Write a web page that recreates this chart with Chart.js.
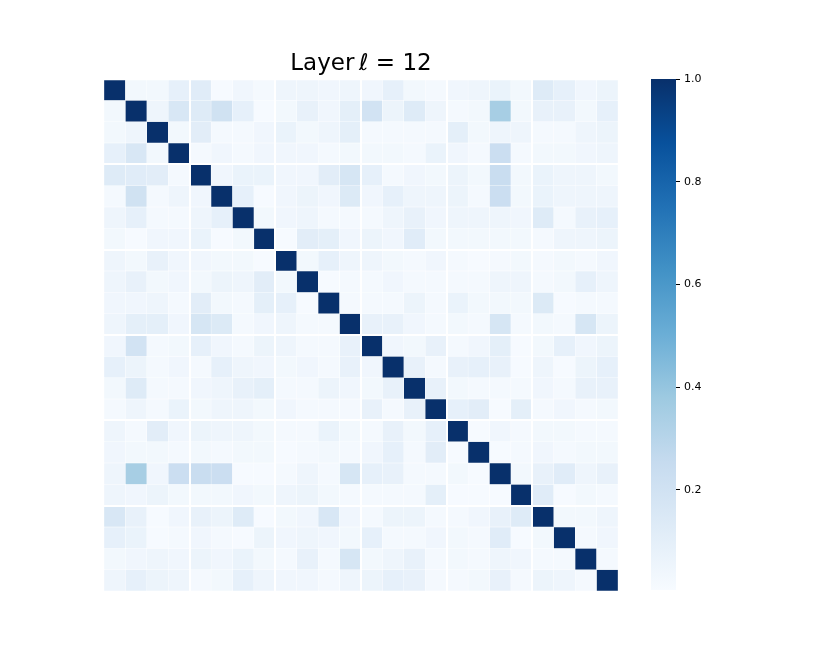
<!DOCTYPE html>
<html>
<head>
<meta charset="utf-8">
<script src="https://cdn.jsdelivr.net/npm/chart.js@4.4.1/dist/chart.umd.min.js"></script>
<style>
  html, body { margin: 0; padding: 0; background: #fff; }
  #wrap { position: relative; width: 830px; height: 664px; }
  #heat { position: absolute; left: 0; top: 0; }
  #cbar { position: absolute; left: 640px; top: 0; }
</style>
</head>
<body>
<div id="wrap">
  <canvas id="heat" width="640" height="664"></canvas>
  <canvas id="cbar" width="190" height="664"></canvas>
</div>
<script>
'use strict';

var title = 'Layer\u2009\u2113 = 12';

// 24 heads
var cols = ['0','1','2','3','4','5','6','7','8','9','10','11','12','13','14','15','16','17','18','19','20','21','22','23'];

var corr = [
  [1.00,0.03,0.03,0.09,0.12,0.01,0.04,0.02,0.05,0.05,0.04,0.05,0.04,0.09,0.03,0.02,0.04,0.05,0.07,0.03,0.13,0.09,0.04,0.06],
  [0.03,1.00,0.05,0.16,0.13,0.20,0.09,0.01,0.03,0.08,0.04,0.10,0.19,0.06,0.13,0.05,0.02,0.03,0.35,0.03,0.08,0.08,0.03,0.09],
  [0.03,0.05,1.00,0.03,0.11,0.02,0.02,0.04,0.07,0.03,0.05,0.10,0.02,0.02,0.02,0.02,0.10,0.03,0.05,0.05,0.02,0.02,0.05,0.06],
  [0.09,0.16,0.03,1.00,0.02,0.04,0.02,0.04,0.04,0.04,0.02,0.03,0.03,0.03,0.02,0.07,0.04,0.02,0.23,0.02,0.03,0.03,0.04,0.05],
  [0.13,0.12,0.11,0.02,1.00,0.04,0.07,0.07,0.04,0.04,0.11,0.17,0.09,0.02,0.04,0.03,0.06,0.03,0.24,0.03,0.07,0.05,0.05,0.03],
  [0.02,0.20,0.02,0.05,0.04,1.00,0.09,0.01,0.04,0.06,0.04,0.14,0.04,0.09,0.05,0.05,0.06,0.02,0.23,0.03,0.07,0.05,0.05,0.05],
  [0.05,0.09,0.02,0.02,0.05,0.09,1.00,0.03,0.04,0.05,0.02,0.02,0.02,0.05,0.08,0.04,0.05,0.05,0.05,0.04,0.13,0.02,0.08,0.09],
  [0.03,0.01,0.04,0.04,0.07,0.01,0.03,1.00,0.01,0.11,0.10,0.04,0.06,0.04,0.12,0.03,0.03,0.03,0.03,0.03,0.02,0.05,0.05,0.06],
  [0.05,0.03,0.08,0.04,0.04,0.03,0.03,0.01,1.00,0.03,0.09,0.05,0.05,0.03,0.02,0.04,0.02,0.01,0.02,0.03,0.02,0.03,0.02,0.04],
  [0.05,0.08,0.03,0.04,0.03,0.06,0.05,0.11,0.03,1.00,0.01,0.02,0.02,0.04,0.02,0.02,0.02,0.02,0.05,0.05,0.02,0.03,0.09,0.05],
  [0.04,0.04,0.05,0.02,0.11,0.03,0.02,0.10,0.09,0.01,1.00,0.02,0.02,0.02,0.06,0.02,0.07,0.03,0.03,0.03,0.14,0.01,0.02,0.02],
  [0.05,0.10,0.10,0.04,0.17,0.14,0.02,0.04,0.05,0.02,0.02,1.00,0.08,0.08,0.04,0.02,0.03,0.02,0.17,0.02,0.03,0.02,0.17,0.06],
  [0.04,0.19,0.02,0.03,0.09,0.04,0.02,0.06,0.05,0.02,0.02,0.08,1.00,0.04,0.03,0.08,0.02,0.04,0.10,0.01,0.03,0.09,0.04,0.06],
  [0.09,0.06,0.02,0.04,0.02,0.09,0.05,0.04,0.03,0.04,0.02,0.08,0.04,1.00,0.08,0.02,0.08,0.09,0.08,0.01,0.05,0.01,0.06,0.09],
  [0.03,0.13,0.02,0.02,0.04,0.05,0.08,0.10,0.02,0.02,0.06,0.04,0.03,0.08,1.00,0.08,0.03,0.02,0.02,0.02,0.04,0.02,0.08,0.08],
  [0.02,0.05,0.02,0.07,0.03,0.05,0.05,0.03,0.04,0.02,0.02,0.02,0.08,0.02,0.08,1.00,0.09,0.11,0.01,0.10,0.02,0.04,0.02,0.03],
  [0.05,0.02,0.11,0.04,0.06,0.05,0.05,0.03,0.02,0.02,0.07,0.03,0.02,0.08,0.03,0.09,1.00,0.01,0.04,0.02,0.03,0.03,0.02,0.02],
  [0.04,0.03,0.03,0.02,0.03,0.02,0.03,0.03,0.01,0.02,0.03,0.02,0.04,0.09,0.02,0.11,0.01,1.00,0.01,0.02,0.04,0.02,0.03,0.03],
  [0.05,0.35,0.04,0.23,0.24,0.23,0.01,0.01,0.02,0.05,0.02,0.17,0.09,0.08,0.02,0.02,0.03,0.01,1.00,0.03,0.08,0.12,0.05,0.08],
  [0.05,0.04,0.06,0.03,0.03,0.03,0.04,0.03,0.05,0.06,0.03,0.02,0.02,0.02,0.02,0.10,0.01,0.01,0.01,1.00,0.12,0.01,0.03,0.02],
  [0.16,0.08,0.01,0.04,0.08,0.06,0.13,0.01,0.03,0.04,0.16,0.04,0.02,0.06,0.06,0.02,0.02,0.04,0.08,0.13,1.00,0.03,0.03,0.05],
  [0.09,0.07,0.01,0.02,0.04,0.02,0.01,0.06,0.04,0.05,0.04,0.03,0.09,0.02,0.02,0.04,0.03,0.02,0.12,0.01,0.03,1.00,0.02,0.04],
  [0.03,0.04,0.05,0.04,0.06,0.04,0.07,0.03,0.02,0.08,0.02,0.17,0.03,0.05,0.08,0.02,0.03,0.02,0.05,0.04,0.02,0.02,1.00,0.02],
  [0.05,0.09,0.06,0.05,0.02,0.03,0.09,0.05,0.04,0.04,0.02,0.05,0.06,0.09,0.08,0.02,0.02,0.03,0.08,0.02,0.06,0.05,0.02,1.00]
];

var vmin = 0.005, vmax = 1.0;
var cbarTicks = [0.2, 0.4, 0.6, 0.8, 1.0];

// matplotlib "Blues"
var blues = [
    [247,251,255],[222,235,247],[198,219,239],[158,202,225],[107,174,214],
    [66,146,198],[33,113,181],[8,81,156],[8,48,107]
];

function bluesColor(v) {
    var t = (v - vmin) / (vmax - vmin);
    t = Math.max(0, Math.min(1, t)) * (blues.length - 1);
    var i = Math.min(Math.floor(t), blues.length - 2), f = t - i;
    var a = blues[i], b = blues[i + 1];
    return 'rgb(' + [0, 1, 2].map(function (k) {
        return Math.round(a[k] + (b[k] - a[k]) * f);
    }).join(',') + ')';
}

var font = "'DejaVu Sans', sans-serif";
Chart.defaults.font.family = font;
Chart.defaults.color = '#000';

var datasets = corr.map(function (row, r) {
    return {
        data: cols.map(function () { return [r, r + 1]; }),
        backgroundColor: row.map(bluesColor),
        borderWidth: 0.5,
        borderColor: 'rgba(255,255,255,0.22)',
        borderSkipped: false,
        grouped: false,
        barPercentage: 1,
        categoryPercentage: 1
    };
});

new Chart(document.getElementById('heat'), {
    type: 'bar',
    data: { labels: cols, datasets: datasets },
    options: {
        responsive: false,
        animation: false,
        layout: { padding: { left: 104, right: 22, top: 0, bottom: 73 } },
        plugins: {
            legend: { display: false },
            tooltip: { enabled: false },
            title: {
                display: true,
                text: title,
                font: { size: 23, weight: 'normal' },
                color: '#000',
                padding: { top: 50, bottom: 1.4 }
            }
        },
        scales: {
            x: {
                type: 'category',
                afterFit: function (s) { s.height = 0; },
                ticks: { display: false },
                border: { display: false },
                grid: {
                    z: 1,
                    offset: true,
                    drawTicks: false,
                    lineWidth: 2,
                    color: function (ctx) {
                        return ctx.index > 0 && ctx.index < cols.length && ctx.index % 4 === 0 ? '#fff' : 'rgba(0,0,0,0)';
                    }
                }
            },
            y: {
                type: 'linear',
                min: 0,
                max: corr.length,
                reverse: true,
                afterFit: function (s) { s.width = 0; },
                ticks: { display: false, stepSize: 1 },
                border: { display: false },
                grid: {
                    z: 1,
                    drawTicks: false,
                    lineWidth: 2,
                    color: function (ctx) {
                        var v = ctx.tick ? ctx.tick.value : 0;
                        return v > 0 && v < corr.length && v % 4 === 0 ? '#fff' : 'rgba(0,0,0,0)';
                    }
                }
            }
        }
    }
});

new Chart(document.getElementById('cbar'), {
    type: 'bar',
    data: {
        labels: [''],
        datasets: [{
            data: [[vmin, vmax]],
            borderWidth: 0,
            barPercentage: 1,
            categoryPercentage: 1,
            backgroundColor: function (ctx) {
                var area = ctx.chart.chartArea;
                if (!area) return blues[4];
                var g = ctx.chart.ctx.createLinearGradient(0, area.bottom, 0, area.top);
                blues.forEach(function (c, i) {
                    g.addColorStop(i / (blues.length - 1), 'rgb(' + c.join(',') + ')');
                });
                return g;
            }
        }]
    },
    options: {
        responsive: false,
        animation: false,
        layout: { padding: { left: 11, right: 114, top: 79, bottom: 74 } },
        plugins: { legend: { display: false }, tooltip: { enabled: false } },
        scales: {
            x: { display: false },
            y: {
                type: 'linear',
                position: 'right',
                min: vmin,
                max: vmax,
                afterFit: function (s) { s.width = 40; },
                afterBuildTicks: function (s) {
                    s.ticks = cbarTicks.map(function (v) { return { value: v }; });
                },
                border: { display: false },
                grid: {
                    drawOnChartArea: false,
                    drawTicks: true,
                    tickLength: 4,
                    tickWidth: 1,
                    color: '#000'
                },
                ticks: {
                    padding: 4,
                    font: { size: 11 },
                    color: '#000',
                    callback: function (v) { return v.toFixed(1); }
                }
            }
        }
    }
});
</script>
</body>
</html>
